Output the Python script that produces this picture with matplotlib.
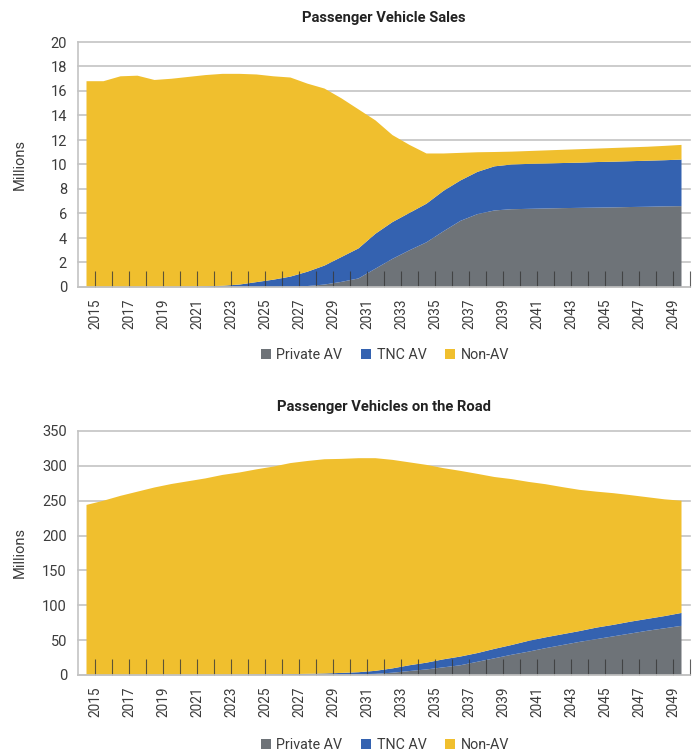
import numpy as np
import matplotlib
matplotlib.use('Agg')
import matplotlib.pyplot as plt
from matplotlib.patches import Patch
from matplotlib import font_manager

have = {f.name for f in font_manager.fontManager.ttflist}
FONT = next((f for f in ['Roboto', 'DejaVu Sans'] if f in have), 'DejaVu Sans')
plt.rcParams['font.family'] = [FONT, 'DejaVu Sans']

YEARS = list(range(2015, 2051))
LABELS = ['Private AV', 'TNC AV', 'Non-AV']
COLORS = ['#6e7378', '#3462b0', '#f0bf2e']

# Passenger vehicle sales, millions
sales_private = [0, 0, 0, 0, 0, 0, 0, 0, 0, 0, 0, 0, 0.02, 0.08, 0.2, 0.42, 0.7, 1.5,
                 2.3, 3.0, 3.65, 4.55, 5.4, 5.95, 6.25, 6.35, 6.38, 6.41, 6.44, 6.46,
                 6.48, 6.5, 6.53, 6.55, 6.58, 6.6]
sales_tnc = [0, 0, 0, 0, 0, 0, 0.02, 0.05, 0.1, 0.2, 0.4, 0.6, 0.83, 1.17, 1.55, 2.03,
             2.45, 2.85, 3.0, 3.05, 3.15, 3.3, 3.3, 3.45, 3.6, 3.65, 3.67, 3.67, 3.68,
             3.69, 3.72, 3.73, 3.74, 3.76, 3.77, 3.8]
sales_nonav = [16.8, 16.8, 17.2, 17.25, 16.9, 17.0, 17.13, 17.25, 17.3, 17.2, 16.95,
               16.6, 16.25, 15.35, 14.45, 12.95, 11.35, 9.25, 7.1, 5.55, 4.1, 3.05, 2.25,
               1.6, 1.17, 1.05, 1.05, 1.07, 1.08, 1.1, 1.1, 1.12, 1.13, 1.14, 1.17, 1.2]

# Passenger vehicles on the road, millions
road_private = [0, 0, 0, 0, 0, 0, 0, 0, 0, 0, 0, 0, 0, 0.2, 0.4, 0.7, 1.0, 1.7, 3.3,
                5.7, 8, 11, 14, 19, 24, 29, 33.5, 38.5, 43, 47.5, 51.5, 55.5, 59.5,
                63.5, 67, 70.5]
road_tnc = [0, 0, 0, 0, 0, 0, 0, 0, 0.2, 0.5, 0.8, 1.0, 1.3, 1.5, 1.8, 2.3, 3.0, 4.3,
            6.2, 8.3, 9.7, 11.5, 12.5, 12.5, 13.5, 14, 15.5, 15.5, 15.5, 15.5, 16.5,
            16.5, 17, 17, 17.5, 18.5]
road_nonav = [244, 250, 257, 263, 269, 274, 278, 282, 286.8, 290, 294.2, 298, 302.7,
              305.3, 307.3, 307, 307, 305, 299.1, 291, 283.7, 274.2, 266.3, 257, 246.5,
              238, 228, 219.7, 211, 202.6, 195, 188.8, 181.5, 174.5, 167.5, 161]


def panel(ax, series, yticks, title, title_y):
    ax.stackplot(YEARS, *series, colors=COLORS, linewidth=0, zorder=1)
    for v in yticks:
        ax.axhline(v, color='#c3c3c3', lw=1.2, zorder=0, clip_on=False)
    ax.set_xlim(YEARS[0] - 0.5, YEARS[-1] + 0.5)
    ax.set_ylim(yticks[0], yticks[-1])
    ax.set_yticks(yticks)
    pos = [y + 0.5 for y in YEARS]
    ax.set_xticks(pos, [str(y) if y % 2 == 1 else '' for y in YEARS], rotation=90)
    ax.tick_params(axis='x', direction='in', length=11.5, width=0.8,
                   color=(0.22, 0.22, 0.22, 0.8), pad=8, labelsize=9.8,
                   labelcolor='#3c3c3c')
    ax.tick_params(axis='y', length=0, pad=8, labelsize=10.5, labelcolor='#3c3c3c')
    for s in ['top', 'right']:
        ax.spines[s].set_visible(False)
    for s in ['left', 'bottom']:
        ax.spines[s].set_color('#c3c3c3')
        ax.spines[s].set_linewidth(1.2)
    ax.set_ylabel('Millions', fontsize=10.5, color='#3c3c3c')
    ax.yaxis.set_label_coords(-0.083, 0.5)
    fig.text(0.553, title_y, title, ha='center', va='center', fontsize=10.6,
             fontweight='bold', color='#222222')


fig = plt.figure(figsize=(6.94, 7.54), dpi=100)
ax1 = fig.add_axes([78 / 694, 1 - 287 / 754, 612 / 694, 245 / 754])
ax2 = fig.add_axes([78 / 694, 1 - 675 / 754, 612 / 694, 244 / 754])

panel(ax1, [sales_private, sales_tnc, sales_nonav], list(range(0, 21, 2)),
      'Passenger Vehicle Sales', 1 - 18 / 754)
panel(ax2, [road_private, road_tnc, road_nonav], list(range(0, 351, 50)),
      'Passenger Vehicles on the Road', 1 - 407 / 754)

handles = [Patch(facecolor=c, edgecolor='none') for c in COLORS]
for ycen in [1 - 355 / 754, 1 - 745 / 754]:
    fig.legend(handles, LABELS, loc='center', bbox_to_anchor=(0.555, ycen), ncol=3,
               frameon=False, handlelength=0.7, handleheight=0.7, handletextpad=0.4,
               columnspacing=1.3, fontsize=10.3, labelcolor='#3c3c3c')

fig.savefig('out.png', dpi=100)
